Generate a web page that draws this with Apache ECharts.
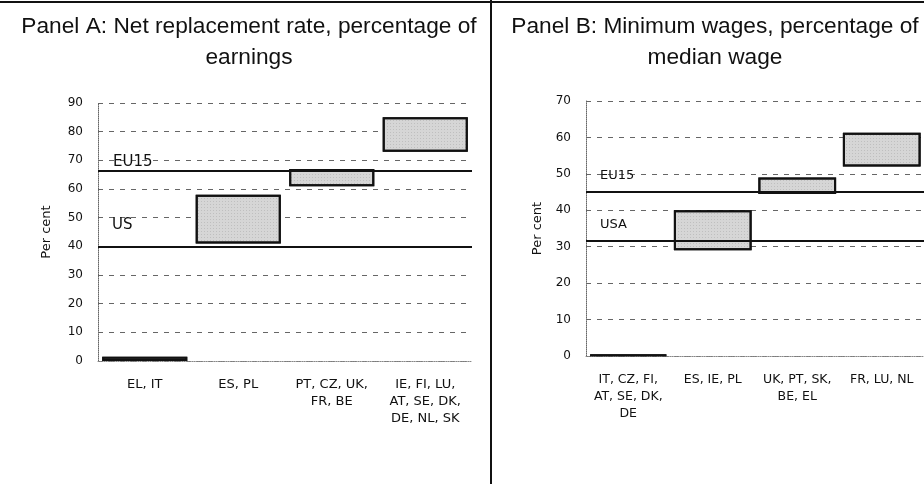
<!DOCTYPE html>
<html>
<head>
<meta charset="utf-8">
<script src="https://cdn.jsdelivr.net/npm/echarts@6/dist/echarts.min.js"></script>
<style>
  html, body { margin: 0; padding: 0; background: #fff; }
  #chart { width: 924px; height: 484px; }
</style>
</head>
<body>
<div id="chart"></div>
<script>
// Panel A: net replacement rate ranges by country group
var catsA = ['EL, IT', 'ES, PL', 'PT, CZ, UK,\nFR, BE', 'IE, FI, LU,\nAT, SE, DK,\nDE, NL, SK']
var lowA = [0, 41, 61, 73]
var highA = [1.5, 58, 67, 85]
var refA = [{ name: 'EU15', value: 66.5 }, { name: 'US', value: 40 }]

// Panel B: minimum wages ranges by country group
var catsB = ['IT, CZ, FI,\nAT, SE, DK,\nDE', 'ES, IE, PL', 'UK, PT, SK,\nBE, EL', 'FR, LU, NL']
var lowB = [0, 29, 44.5, 52]
var highB = [0.4, 40, 49, 61.3]
var refB = [{ name: 'EU15', value: 45 }, { name: 'USA', value: 31.6 }]

var ticksA = { min: 0, max: 90, interval: 10 }
var ticksB = { min: 0, max: 70, interval: 10 }

var chart = echarts.init(document.getElementById('chart'))

var titleFont = 'Liberation Sans, Arial, sans-serif'
var font = 'DejaVu Sans, Verdana, sans-serif'
var boxStyle = {
  color: '#d6d6d6',
  borderColor: '#111',
  borderWidth: 2,
  decal: {
    symbol: 'rect',
    symbolSize: 0.5,
    color: 'rgba(60,60,60,0.6)',
    dashArrayX: [1, 2],
    dashArrayY: [1, 2],
    rotation: 0
  }
}

function diff (lo, hi) {
  return hi.map(function (h, i) { return +(h - lo[i]).toFixed(2) })
}

// reference lines (EU15 / US) with their labels at the left end
function refLine (list, dist, size) {
  return {
    silent: true,
    symbol: 'none',
    lineStyle: { color: '#111', width: 2, type: 'solid' },
    label: {
      show: true,
      position: 'insideStartTop',
      formatter: '{b}',
      color: '#111',
      fontSize: size,
      fontFamily: font
    },
    data: list.map(function (r, i) {
      return { name: r.name, yAxis: r.value, label: { distance: dist[i] } }
    })
  }
}

function xAx (gi, cats, size) {
  return {
    type: 'category',
    gridIndex: gi,
    data: cats,
    axisLine: { show: true, lineStyle: { color: '#888', width: 1, type: 'dotted' } },
    axisTick: { show: false },
    axisLabel: { interval: 0, color: '#111', fontSize: size, lineHeight: 17, margin: 15, fontFamily: font }
  }
}

function yAx (gi, t, gap) {
  return {
    type: 'value',
    gridIndex: gi,
    min: t.min,
    max: t.max,
    interval: t.interval,
    name: 'Per cent',
    nameLocation: 'middle',
    nameGap: gap,
    nameTextStyle: { color: '#111', fontSize: 13, fontFamily: font },
    axisLine: { show: true, lineStyle: { color: '#666', width: 1, type: 'dotted' } },
    axisTick: { show: false },
    axisLabel: { color: '#111', fontSize: 12, margin: 15, fontFamily: font },
    splitLine: { show: true, lineStyle: { color: '#666', width: 1, type: [5, 6] } }
  }
}

var option = {
  backgroundColor: '#fff',
  animation: false,
  title: [
    {
      text: 'Panel A: Net replacement rate, percentage of\nearnings',
      left: 244, top: 6, textAlign: 'center',
      textStyle: { fontSize: 22.7, fontWeight: 'normal', color: '#111', lineHeight: 31, fontFamily: titleFont }
    },
    {
      text: 'Panel B: Minimum wages, percentage of\nmedian wage',
      left: 710, top: 6, textAlign: 'center',
      textStyle: { fontSize: 22.7, fontWeight: 'normal', color: '#111', lineHeight: 31, fontFamily: titleFont }
    }
  ],
  graphic: [
    { type: 'line', shape: { x1: 0, y1: 2, x2: 924, y2: 2 }, style: { stroke: '#111', lineWidth: 2 } },
    { type: 'line', shape: { x1: 491, y1: 0, x2: 491, y2: 484 }, style: { stroke: '#111', lineWidth: 2 } }
  ],
  grid: [
    { left: 98, top: 103, width: 374, height: 258 },
    { left: 586, top: 101, width: 340, height: 255 }
  ],
  xAxis: [xAx(0, catsA, 13), xAx(1, catsB, 12.5)],
  yAxis: [yAx(0, ticksA, 45), yAx(1, ticksB, 42)],
  series: [
    {
      name: 'baseA', type: 'bar', stack: 'a', xAxisIndex: 0, yAxisIndex: 0,
      data: lowA, itemStyle: { color: 'transparent' }, barWidth: '91%', silent: true,
      markLine: refLine(refA, [[15, 1], [14, 14]], 15)
    },
    {
      name: 'rangeA', type: 'bar', stack: 'a', xAxisIndex: 0, yAxisIndex: 0,
      data: diff(lowA, highA), itemStyle: boxStyle, barWidth: '91%'
    },
    {
      name: 'baseB', type: 'bar', stack: 'b', xAxisIndex: 1, yAxisIndex: 1,
      data: lowB, itemStyle: { color: 'transparent' }, barWidth: '92%', silent: true,
      markLine: refLine(refB, [[14, 10], [14, 10]], 13)
    },
    {
      name: 'rangeB', type: 'bar', stack: 'b', xAxisIndex: 1, yAxisIndex: 1,
      data: diff(lowB, highB), itemStyle: boxStyle, barWidth: '92%'
    }
  ]
}

chart.setOption(option)
</script>
</body>
</html>
